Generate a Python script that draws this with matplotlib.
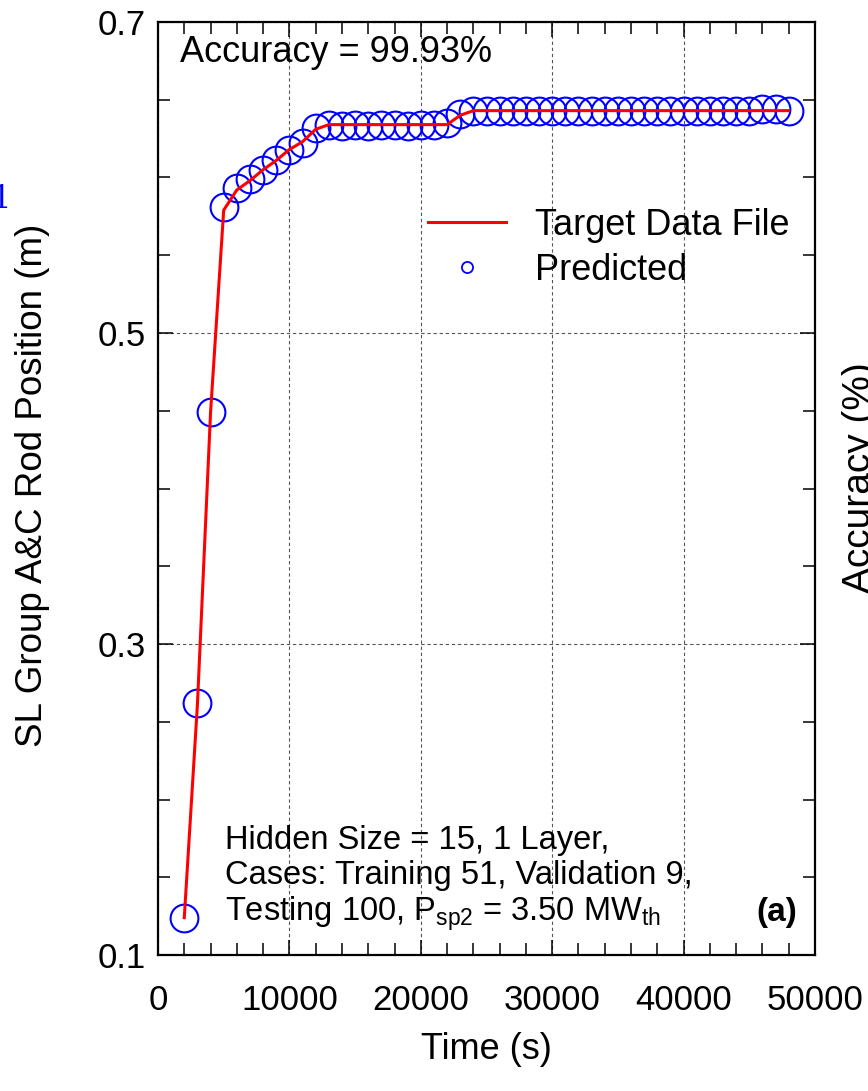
import matplotlib
matplotlib.use("Agg")
import matplotlib.pyplot as plt
from matplotlib.ticker import MultipleLocator, FixedLocator
from matplotlib.lines import Line2D

plt.rcParams['font.family'] = ['Liberation Sans', 'DejaVu Sans']
plt.rcParams['mathtext.fontset'] = 'custom'
plt.rcParams['mathtext.rm'] = 'Liberation Sans'

time_s = [2000, 3000, 4000, 5000, 6000, 7000, 8000, 9000, 10000, 11000,
          12000, 13000, 14000, 15000, 16000, 17000, 18000, 19000, 20000, 21000,
          22000, 23000, 24000, 25000, 26000, 27000, 28000, 29000, 30000, 31000,
          32000, 33000, 34000, 35000, 36000, 37000, 38000, 39000, 40000, 41000,
          42000, 43000, 44000, 45000, 46000, 47000, 48000]

target = [0.124, 0.261, 0.449, 0.579, 0.592, 0.598, 0.605, 0.611, 0.618, 0.623,
          0.631, 0.634, 0.634, 0.634, 0.634, 0.634, 0.634, 0.634, 0.634, 0.634,
          0.634, 0.640, 0.643, 0.643, 0.643, 0.643, 0.643, 0.643, 0.643, 0.643,
          0.643, 0.643, 0.643, 0.643, 0.643, 0.643, 0.643, 0.643, 0.643, 0.643,
          0.643, 0.643, 0.643, 0.643, 0.643, 0.643, 0.643]

predicted = [0.124, 0.262, 0.449, 0.581, 0.593, 0.599, 0.605, 0.611, 0.618, 0.622,
             0.632, 0.634, 0.633, 0.634, 0.633, 0.634, 0.634, 0.633, 0.634, 0.634,
             0.635, 0.641, 0.643, 0.643, 0.643, 0.643, 0.643, 0.643, 0.643, 0.643,
             0.643, 0.643, 0.643, 0.643, 0.643, 0.643, 0.643, 0.643, 0.643, 0.643,
             0.643, 0.643, 0.643, 0.643, 0.644, 0.644, 0.643]

y_major = [0.1, 0.3, 0.5, 0.7]
x_major = [0, 10000, 20000, 30000, 40000, 50000]

fig = plt.figure(figsize=(8.68, 10.91), dpi=100)
ax = fig.add_axes([158/868, 1-955/1091, (815-158)/868, (955-22)/1091])

ax.plot(time_s, predicted, linestyle='none', marker='o', markersize=20,
        markerfacecolor='none', markeredgecolor='#0000ff', markeredgewidth=1.5,
        zorder=3)
ax.plot(time_s, target, color='#ff0000', linewidth=2.2, zorder=4)

ax.set_xlim(0, 50000)
ax.set_ylim(0.1, 0.7)
ax.xaxis.set_major_locator(FixedLocator(x_major))
ax.xaxis.set_minor_locator(MultipleLocator(2000))
ax.yaxis.set_major_locator(FixedLocator(y_major))
ax.yaxis.set_minor_locator(MultipleLocator(0.05))
ax.set_yticklabels(['0.1', '0.3', '0.5', '0.7'])
ax.set_xticklabels(['0', '10000', '20000', '30000', '40000', '50000'])

ax.tick_params(which='both', direction='in', top=True, right=True, width=1.1,
               labelsize=25)
ax.tick_params(which='major', length=11)
ax.tick_params(which='minor', length=8.5)
ax.tick_params(axis='x', which='major', pad=21)
ax.tick_params(axis='y', which='major', pad=9)
for sp in ax.spines.values():
    sp.set_linewidth(1.6)

ax.grid(True, which='major', color='#555555', linestyle=(0, (3, 2.5)), linewidth=0.8)

ax.set_xlabel('Time (s)', fontsize=26)
ax.set_ylabel('SL Group A&C Rod Position (m)', fontsize=26.5)
ax.xaxis.set_label_coords(0.5, -0.083)
ax.yaxis.set_label_coords(-0.165, 0.503)

ax.text(180/868, 1-62/1091, 'Accuracy = 99.93%', transform=fig.transFigure,
        fontsize=26, ha='left', va='baseline')

info = ('Hidden Size = 15, 1 Layer,\nCases: Training 51, Validation 9,\n'
        'Testing 100, $\\mathregular{P_{sp2}}$ = 3.50 $\\mathregular{MW_{th}}$')
ax.text(225/868, 1-921/1091, info, transform=fig.transFigure, fontsize=23.5,
        ha='left', va='baseline', linespacing=1.15)
ax.text(797/868, 1-921/1091, '(a)', transform=fig.transFigure, fontsize=24,
        fontweight='bold', ha='right', va='baseline')

handles = [Line2D([], [], color='#ff0000', linewidth=2.2),
           Line2D([], [], linestyle='none', marker='o', markersize=8,
                  markerfacecolor='none', markeredgecolor='#0000ff',
                  markeredgewidth=1.3)]
leg = ax.legend(handles, ['Target Data File', 'Predicted'], loc='center left',
                bbox_to_anchor=(428/868, 1-248/1091), bbox_transform=fig.transFigure,
                frameon=False, fontsize=26, handlelength=2.15, handletextpad=0.8,
                labelspacing=0.28, borderpad=0, borderaxespad=0)

# fragments of neighbouring panels
fig.text(860/868, 1-478/1091, 'Accuracy (%)', rotation=90, fontsize=28,
         ha='center', va='center')
fig.text(1/868, 1-199/1091, '1', color='#0000ff', fontsize=22,
         family='DejaVu Serif', ha='center', va='center')

fig.savefig('out.png', dpi=100)
